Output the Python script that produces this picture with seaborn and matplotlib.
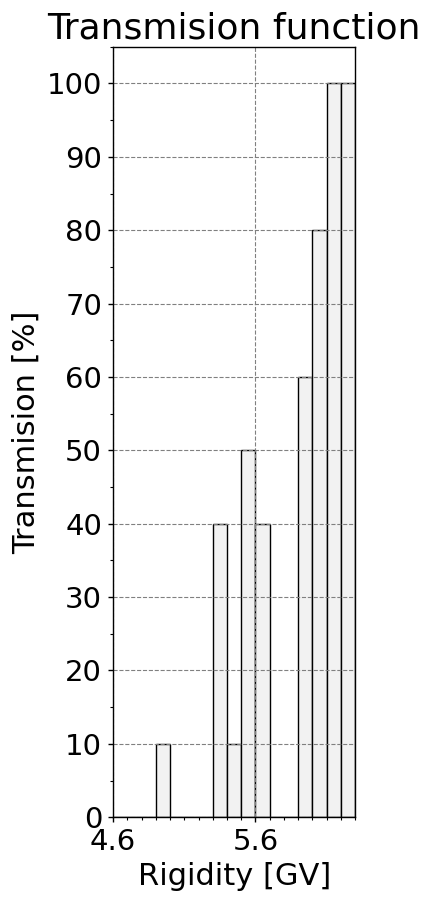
import numpy as np
import pandas as pd
import matplotlib
matplotlib.use("Agg")
import matplotlib.pyplot as plt
from matplotlib.ticker import MultipleLocator, FixedLocator
import seaborn as sns

# Data: rigidity bin centres [GV] and transmission [%]
rigidity = [4.95, 5.35, 5.45, 5.55, 5.65, 5.95, 6.05, 6.15, 6.25]
transmission = [10, 40, 10, 50, 40, 60, 80, 100, 100]
bin_edges = [4.6 + 0.1 * i for i in range(18)]
x_major_ticks = [4.6, 5.6]

sns.set_style("white")
plt.rcParams['font.family'] = ['DejaVu Sans']
plt.rcParams['text.color'] = 'black'
plt.rcParams['axes.labelcolor'] = 'black'

df = pd.DataFrame({"rigidity": rigidity, "transmission": transmission})

fig = plt.figure(figsize=(4.32, 9.0), dpi=100)
ax = fig.add_axes([0.262, 0.092, 0.560, 0.856])

sns.histplot(data=df, x="rigidity", weights="transmission", bins=bin_edges,
             ax=ax, color="#f2f2f2", edgecolor="black", linewidth=1.0, alpha=1.0)

ax.set_xlim(4.6, 6.3)
ax.set_ylim(0, 105)
ax.xaxis.set_major_locator(FixedLocator(x_major_ticks))
ax.xaxis.set_minor_locator(MultipleLocator(0.1))
ax.yaxis.set_major_locator(MultipleLocator(10))
ax.yaxis.set_minor_locator(MultipleLocator(5))
ax.tick_params(axis="both", which="major", labelsize=21, length=3.5, width=1, direction="out",
               pad=4.5, bottom=True, left=True, colors="black")
ax.tick_params(axis="both", which="minor", length=2, width=0.8, bottom=True, left=True,
               colors="black")
ax.set_xticklabels(["4.6", "5.6"])
ax.grid(True, which="major", linestyle="--", color="gray", linewidth=0.8)
ax.set_axisbelow(False)
for s in ax.spines.values():
    s.set_color("black")
    s.set_linewidth(1.0)
    s.set_zorder(5)

ax.set_xlabel("Rigidity [GV]", fontsize=22, color="black")
ax.set_ylabel("Transmision [%]", fontsize=22, color="black")
ax.set_title("Transmision function", fontsize=26, color="black")

fig.savefig("out.png", dpi=100)
